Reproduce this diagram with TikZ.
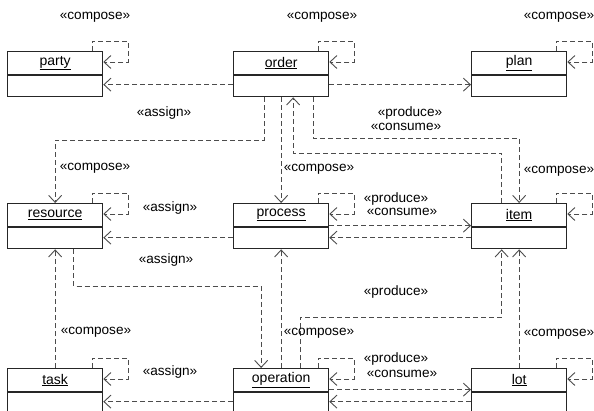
\documentclass[tikz,border=0pt]{standalone}
\usepackage{fontspec}
\setmainfont{Liberation Sans}
\usetikzlibrary{arrows.meta,calc}
\tikzset{
  classbox/.style={draw=black!85, line width=1.3pt, minimum width=95pt, minimum height=45pt, inner sep=0pt, anchor=north west},
  dep/.style={draw=black!70, line width=0.9pt, dash pattern=on 5pt off 3pt,
    -{Straight Barb[length=7pt,width=13pt,line width=0.9pt]}},
  lbl/.style={font=\fontsize{13.6}{16}\selectfont, inner sep=0pt, text=black},
  cname/.style={font=\fontsize{14}{16}\selectfont, inner sep=0pt, text=black},
}
\newcommand\umlcls[4]{%
  \node[classbox] (#1) at (#2,#3) {};
  \draw[line width=1.3pt, draw=black!85] ([yshift=-24pt]#1.north west) -- ([yshift=-24pt]#1.north east);
  \node[cname] (#1-t) at ([yshift=-12pt]#1.north) {\underline{#4}};
  \draw[dep] ([xshift=-11pt]#1.north east) -- ++(0,-10) -- ++(36,0) |- ([yshift=-11pt]#1.north east);
}
\begin{document}
\begin{tikzpicture}[x=1pt,y=-1pt]
\clip (0,0) rectangle (594,410);
\fill[white] (0,0) rectangle (594,410);
% classes
\umlcls{party}{7}{51}{party}
\umlcls{order}{233}{51}{order}
\umlcls{plan}{471}{51}{plan}
\umlcls{resource}{7}{203}{resource}
\umlcls{process}{233}{203}{process}
\umlcls{item}{471}{203}{item}
\umlcls{task}{7}{368}{task}
\umlcls{operation}{233}{368}{operation}
\umlcls{lot}{471}{368}{lot}
% connectors
\draw[dep] ([yshift=-10.5pt]order.west) -- ([yshift=-10.5pt]party.east);
\draw[dep] ([yshift=-10.5pt]order.east) -- ([yshift=-10.5pt]plan.west);
\draw[dep] ([xshift=-17pt]order.south) -- ++(0,43) -| (resource.north);
\draw[dep] (order.south) -- (process.north);
\draw[dep] ([xshift=-17.5pt]item.north) -- ++(0,-50) -| ([xshift=12pt]order.south);
\draw[dep] ([xshift=32pt]order.south) -- ++(0,41) -| (item.north);
\draw[dep] ([yshift=-11.5pt]process.west) -- ([yshift=-11.5pt]resource.east);
\draw[dep] ([yshift=0.5pt]process.east) -- ([yshift=0.5pt]item.west);
\draw[dep] ([yshift=-11.5pt]item.west) -- ([yshift=-11.5pt]process.east);
\draw[dep] (task.north) -- (resource.south);
\draw[dep] ([xshift=18.5pt]resource.south) -- ++(0,37) -| ([xshift=-20pt]operation.north);
\draw[dep] (operation.north) -- (process.south);
\draw[dep] ([xshift=19pt]operation.north) -- ++(0,-51) -| ([xshift=-17.5pt]item.south);
\draw[dep] (lot.north) -- (item.south);
\draw[dep] ([yshift=1.5pt]operation.east) -- ([yshift=1.5pt]lot.west);
\draw[dep] ([yshift=-10.5pt]lot.west) -- ([yshift=-10.5pt]operation.east);
\draw[dep] ([yshift=-10.5pt]operation.west) -- ([yshift=-10.5pt]task.east);
% labels
\node[lbl] (l1) at (95,17) {«compose»};
\node[lbl] (l2) at (322,17) {«compose»};
\node[lbl] (l3) at (559,17) {«compose»};
\node[lbl] (l4) at (164,113) {«assign»};
\node[lbl] (l5) at (410,113) {«produce»};
\node[lbl] (l6) at (406,127) {«consume»};
\node[lbl] (l7) at (95,168) {«compose»};
\node[lbl] (l8) at (319,169) {«compose»};
\node[lbl] (l9) at (559,171) {«compose»};
\node[lbl] (l10) at (170,208) {«assign»};
\node[lbl] (l11) at (396,199) {«produce»};
\node[lbl] (l12) at (402,212) {«consume»};
\node[lbl] (l13) at (166,260) {«assign»};
\node[lbl] (l14) at (396,292) {«produce»};
\node[lbl] (l15) at (96,332) {«compose»};
\node[lbl] (l16) at (319,333) {«compose»};
\node[lbl] (l17) at (559,334) {«compose»};
\node[lbl] (l18) at (170,372) {«assign»};
\node[lbl] (l19) at (396,359) {«produce»};
\node[lbl] (l20) at (402,374) {«consume»};
\end{tikzpicture}
\end{document}
